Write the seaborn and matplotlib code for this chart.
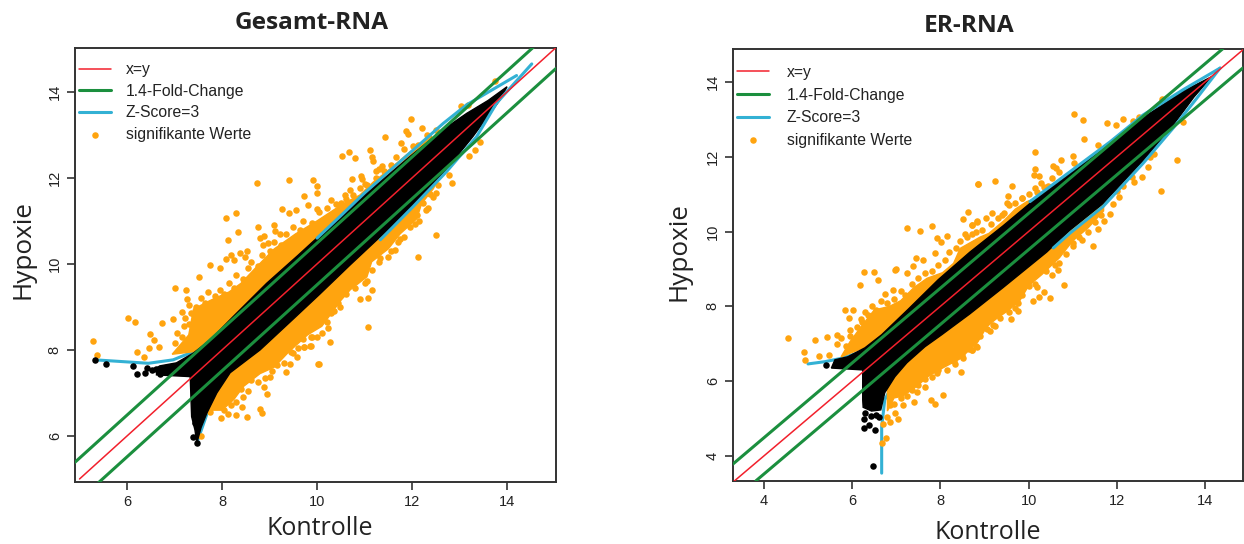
import matplotlib
matplotlib.use("Agg")
import matplotlib.pyplot as plt
import seaborn as sns

titles = ["Gesamt-RNA", "ER-RNA"]
xlabel = "Kontrolle"
ylabel = "Hypoxie"
label_order = ["x=y", "1.4-Fold-Change", "Z-Score=3", "signifikante Werte"]

# Gesamt-RNA
g_xticks = [6, 8, 10, 12, 14]
g_yticks = [6, 8, 10, 12, 14]
g_red = [5.0, 15.03]
g_green_up_x = [4.9, 14.6]
g_green_up_y = [5.385, 15.085]
g_green_lo_x = [5.4, 15.03]
g_green_lo_y = [4.915, 14.545]

g_zup_x = [5.33, 6.45, 6.97, 7.33, 7.75, 8.5, 9.3, 10.0]
g_zup_y = [7.77, 7.69, 7.77, 7.93, 8.28, 9.12, 9.9, 10.6]
g_zup_top_x = [10.0, 10.48, 11.0, 11.75, 12.66, 13.15, 14.2]
g_zup_top_y = [10.6, 11.1, 11.65, 12.38, 13.27, 13.7, 14.38]
g_zlo_x = [11.33, 10.06, 9.3, 8.73, 8.3, 7.96, 7.71, 7.47]
g_zlo_y = [10.56, 9.3, 8.48, 8.0, 7.58, 7.12, 6.6, 5.84]
g_zlo_top_x = [14.52, 13.78, 13.36, 12.73, 12.02, 11.33]
g_zlo_top_y = [14.65, 13.74, 12.96, 12.15, 11.33, 10.56]

g_black_x = [6.62, 6.69, 7.04, 7.4, 7.75, 8.23, 8.94, 9.6, 10.34, 11.05, 11.96, 12.65, 13.15, 13.6, 14.0,
             13.85, 13.28, 12.66, 11.96, 11.26, 10.69, 10.06, 9.5, 8.8, 8.17, 7.89, 7.68, 7.56, 7.47,
             7.43, 7.36, 7.33, 6.62]
g_black_y = [7.58, 7.63, 7.7, 7.93, 8.23, 8.77, 9.55, 10.2, 10.95, 11.65, 12.5, 13.12, 13.5, 13.8, 14.12,
             13.81, 12.96, 12.11, 11.26, 10.56, 9.97, 9.3, 8.72, 8.0, 7.47, 7.0, 6.53, 6.2, 5.84,
             6.14, 6.45, 7.38, 7.42]
g_dots_x = [5.33, 5.55, 6.13, 6.2, 6.38, 6.43, 6.52, 7.38, 7.43, 7.47, 6.6, 6.7, 7.4, 7.5, 7.55]
g_dots_y = [7.77, 7.67, 7.63, 7.44, 7.47, 7.57, 7.53, 5.98, 6.3, 5.84, 7.55, 7.45, 6.5, 6.35, 6.6]

g_cloud_up_x = [6.95, 7.3, 7.4, 7.75, 8.15, 8.4, 8.7, 9.1, 9.55, 10.0, 10.55, 10.9, 11.18, 11.47, 11.9, 12.4, 12.5, 7.7]
g_cloud_up_y = [7.9, 8.35, 8.95, 9.15, 9.35, 9.55, 9.9, 10.35, 10.7, 11.0, 11.4, 11.6, 11.9, 12.15, 12.55, 13.0, 12.6, 8.0]
g_cloud_lo_x = [7.68, 8.0, 8.25, 8.45, 8.8, 9.1, 9.4, 9.8, 10.1, 10.3, 10.5, 10.7, 11.05, 11.15, 11.5, 11.75, 12.1, 12.2,
                12.45, 12.6, 12.6, 7.68]
g_cloud_lo_y = [6.6, 6.6, 6.85, 7.15, 7.45, 7.6, 7.95, 8.35, 8.55, 8.85, 9.15, 9.4, 9.7, 10.05, 10.35, 10.7, 11.05, 11.4,
                11.75, 12.1, 12.6, 7.68]

g_sig_x = [8.74, 9.40, 9.92, 10.0, 9.99, 9.73, 9.82, 10.0, 9.26, 9.55, 9.42, 8.30, 8.09, 8.76, 9.09, 9.12, 9.21,
           8.34, 8.12, 8.80, 8.89, 8.87, 8.97, 8.19, 8.38, 8.48, 8.52, 8.08, 8.25, 7.75, 7.96,
           5.28, 5.36, 6.02, 6.17, 6.73, 7.0, 7.24, 7.51, 6.49, 6.57, 6.21, 6.47, 6.68, 6.36, 6.96, 7.16, 7.42, 7.26,
           8.79, 8.84, 8.52, 8.29, 7.97, 8.12, 8.95, 8.88, 9.35, 9.43, 9.57, 9.73, 9.87, 10.03, 9.49, 7.56, 8.41,
           8.45, 8.19, 9.01,
           13.74, 13.17, 13.02, 11.98, 12.2, 11.87, 11.92, 11.43, 11.76, 11.12, 11.83, 10.52, 10.67, 10.8, 11.16,
           11.17, 11.66, 10.73, 10.93, 10.95, 11.24, 11.36, 11.4, 10.29, 10.5, 10.59, 10.69, 10.91, 11.05, 12.5,
           12.31, 12.03, 12.13,
           13.43, 13.32, 13.19, 12.84, 12.78, 12.55, 12.5, 12.38, 12.34, 12.22, 12.1, 12.06, 12.5, 12.13, 11.83,
           11.75, 11.64, 11.5, 11.33,
           11.16, 10.91, 11.08, 11.08, 10.48, 10.29, 10.27, 10.23, 10.05, 9.73, 9.85, 10.0, 9.87, 10.58, 11.05,
           # dense rim of the upper cloud
           7.0, 7.05, 7.15, 7.2, 7.3, 7.22, 7.35, 7.3, 7.45, 7.55, 7.65, 7.7, 7.85, 7.95, 8.05, 8.15, 8.25, 8.3, 8.45,
           8.55, 8.6, 8.75, 8.85, 9.0, 9.1, 9.25, 9.35, 9.5, 9.65, 9.7, 9.9, 10.05, 10.2, 10.4, 10.6, 10.75, 11.0,
           11.25, 11.3, 11.55,
           # dense rim of the lower cloud
           7.75, 7.85, 8.05, 8.15, 8.3, 8.4, 8.55, 8.6, 8.75, 8.9, 9.05, 9.15, 9.3, 9.45, 9.6, 9.7, 9.9, 10.1, 10.2,
           10.35, 10.45, 10.6, 10.8, 11.0, 11.15, 11.3, 11.55, 11.7, 11.95, 12.15, 12.3, 12.45]
g_sig_y = [11.88, 11.94, 11.95, 11.81, 11.66, 11.58, 11.36, 11.28, 11.28, 11.25, 11.19, 11.19, 11.07, 10.86, 10.9,
           10.77, 10.69, 10.74, 10.56, 10.6, 10.65, 10.44, 10.48, 10.21, 10.25, 10.16, 10.31, 10.11, 10.08, 9.98, 9.91,
           8.2, 7.89, 8.74, 8.65, 8.63, 9.43, 9.39, 9.69, 8.38, 8.23, 7.95, 8.05, 8.06, 7.84, 8.71, 8.89, 8.81, 9.18,
           6.63, 6.53, 6.44, 6.48, 6.41, 6.51, 6.98, 7.14, 7.48, 7.67, 7.84, 8.06, 8.1, 7.68, 7.92, 6.01, 6.68,
           6.91, 6.72, 7.38,
           14.26, 13.7, 13.66, 13.38, 13.16, 13.09, 13.02, 12.94, 12.81, 12.66, 12.68, 12.51, 12.6, 12.47, 12.48,
           12.39, 12.48, 11.97, 12.05, 11.97, 12.17, 12.28, 12.15, 11.49, 11.41, 11.6, 11.72, 11.76, 11.84, 13.12,
           13.0, 12.73, 12.77,
           12.83, 12.66, 12.52, 11.88, 12.07, 11.84, 11.64, 11.63, 11.31, 11.41, 11.14, 10.93, 10.67, 10.17, 10.63,
           10.58, 10.33, 10.17, 10.14,
           9.4, 9.19, 9.21, 8.53, 8.99, 8.86, 8.19, 8.51, 7.68, 8.06, 8.09, 8.3, 8.31, 9.33, 9.61,
           8.15, 8.4, 8.3, 8.55, 8.6, 8.75, 8.85, 9.05, 9.0, 9.2, 9.1, 9.35, 9.25, 9.4, 9.3, 9.55, 9.45, 9.75, 9.65,
           9.9, 10.05, 9.95, 10.2, 10.3, 10.5, 10.45, 10.7, 10.85, 10.8, 11.0, 10.95, 11.2, 11.3, 11.4, 11.5, 11.6, 11.85,
           12.0, 12.2, 12.3,
           6.55, 6.7, 6.6, 6.85, 6.8, 7.1, 7.05, 7.3, 7.25, 7.35, 7.5, 7.65, 7.7, 7.95, 8.05, 8.25, 8.3, 8.4, 8.65,
           8.9, 9.1, 9.3, 9.45, 9.55, 9.85, 10.05, 10.3, 10.5, 10.85, 11.0, 11.25, 11.55]

# ER-RNA
e_xticks = [4, 6, 8, 10, 12, 14]
e_yticks = [4, 6, 8, 10, 12, 14]
e_red = [3.31, 14.86]
e_green_up_x = [3.3, 14.4]
e_green_up_y = [3.785, 14.885]
e_green_lo_x = [3.82, 14.86]
e_green_lo_y = [3.335, 14.375]

e_zup_x = [5.0, 5.38, 5.76, 6.22, 6.67, 7.27, 8.17, 9.42, 10.03]
e_zup_y = [6.46, 6.52, 6.61, 6.79, 7.24, 7.9, 8.89, 10.2, 10.8]
e_zup_top_x = [10.03, 10.94, 11.85, 12.6, 13.5, 14.34]
e_zup_top_y = [10.8, 11.6, 12.4, 13.12, 13.79, 14.37]
e_zlo_x = [10.56, 9.8, 8.0, 7.2, 6.97, 6.74, 6.67, 6.67]
e_zlo_y = [9.56, 8.71, 7.1, 6.49, 6.03, 5.5, 4.78, 3.54]
e_zlo_top_x = [14.34, 13.81, 13.28, 12.6, 11.69, 10.94, 10.56]
e_zlo_top_y = [14.37, 13.56, 12.77, 11.83, 10.67, 9.96, 9.56]

e_black_x = [5.53, 5.61, 5.9, 6.29, 6.67, 7.27, 7.95, 8.67, 9.42, 10.03, 10.94, 11.85, 12.6, 13.5, 14.15,
             13.75, 13.28, 12.6, 11.69, 10.94, 10.41, 9.42, 8.67, 8.03, 7.65, 7.24, 6.97, 6.74, 6.65,
             6.44, 6.25, 6.24, 6.24]
e_black_y = [6.35, 6.57, 6.65, 6.89, 7.24, 7.92, 8.71, 9.45, 10.15, 10.75, 11.55, 12.35, 13.05, 13.75, 14.14,
             13.6, 12.85, 11.9, 10.75, 10.04, 9.45, 8.5, 7.8, 7.24, 6.92, 6.49, 6.12, 5.69, 5.23,
             5.2, 5.3, 5.5, 6.3]
e_dots_x = [5.41, 6.27, 6.38, 6.52, 6.48, 6.3, 6.42, 6.28, 6.55, 6.62]
e_dots_y = [6.43, 4.74, 4.83, 4.7, 3.74, 5.15, 5.08, 4.98, 5.1, 5.05]

e_cloud_up_x = [5.75, 5.95, 6.2, 6.5, 6.85, 7.1, 7.4, 7.7, 8.05, 8.3, 8.45, 8.9, 9.1, 9.45, 9.7, 9.96, 10.2, 6.6]
e_cloud_up_y = [6.65, 7.05, 7.45, 7.9, 8.0, 8.15, 8.5, 8.75, 8.9, 9.15, 9.55, 9.85, 9.95, 10.3, 10.6, 10.8, 10.9, 7.05]
e_cloud_lo_x = [6.8, 6.95, 7.15, 7.45, 7.75, 8.05, 8.45, 8.85, 9.05, 9.25, 9.55, 9.8, 10.0, 10.3, 10.7, 11.0, 11.35,
                11.7, 11.7, 6.8]
e_cloud_lo_y = [5.2, 5.55, 5.6, 5.85, 6.15, 6.35, 6.6, 7.05, 7.45, 7.65, 7.9, 8.15, 8.55, 8.85, 9.3, 9.75, 10.1,
                10.55, 11.7, 6.8]

e_sig_x = [8.85, 7.24, 7.54, 7.8, 7.92, 8.02, 8.14, 8.62, 8.52, 8.71, 8.82, 8.56, 8.71, 7.44, 7.6, 7.39, 7.88, 6.99,
           6.27, 6.5, 6.18, 6.59, 6.98, 7.24, 5.84, 6.03, 5.93, 4.54, 5.15, 5.43, 4.92, 5.25, 4.93, 5.47, 5.65, 6.74,
           6.37, 6.22, 5.95, 6.93,
           8.05, 7.88, 7.78, 7.41, 7.15, 7.05, 6.98, 6.86, 6.71, 6.77, 6.68, 8.46, 8.52, 8.72, 8.8, 8.47, 8.33, 7.92,
           7.46, 7.65,
           13.02, 11.03, 11.24, 11.77, 12.13, 11.98, 12.36, 12.5, 11.26, 11.58, 10.15, 10.73, 11.0, 11.04, 10.14,
           10.56, 10.63, 10.7, 10.13, 10.23, 10.52, 10.28, 8.86, 9.24, 9.62, 10.45, 9.54, 9.84, 10.15, 9.5, 9.16,
           9.03, 9.39, 8.82, 8.71,
           13.51, 13.37, 12.85, 12.76, 12.7, 12.57, 12.99, 12.34, 12.38, 12.15, 12.0, 12.04, 11.92, 11.85, 11.7,
           11.58, 11.45, 11.2, 11.01, 10.68,
           10.81, 10.67, 10.54, 10.48, 10.36, 10.23, 10.09, 9.75, 9.61, 9.24, 9.12, 8.82, 8.72, 9.77, 10.18,
           # dense rim of the upper cloud
           5.65, 5.75, 5.85, 5.95, 6.1, 6.2, 6.3, 6.45, 6.55, 6.65, 6.8, 6.95, 7.1, 7.2, 7.35, 7.5, 7.65, 7.8, 7.95,
           8.1, 8.2, 8.35, 8.45, 8.6, 8.8, 8.95, 9.15, 9.3, 9.45, 9.55, 9.7, 9.85, 10.0, 10.2, 10.35,
           # dense rim of the lower cloud
           6.8, 6.85, 6.95, 7.1, 7.25, 7.35, 7.5, 7.65, 7.8, 7.95, 8.15, 8.3, 8.5, 8.65, 8.9, 9.05, 9.2, 9.35, 9.55,
           9.7, 9.85, 10.0, 10.15, 10.4, 10.6, 10.85, 11.0, 11.15, 11.35, 11.5, 11.65]
e_sig_y = [11.28, 10.1, 10.02, 10.14, 9.82, 9.73, 9.87, 10.53, 10.33, 10.18, 10.29, 9.93, 9.93, 9.29, 9.24, 9.08, 9.42, 8.99,
           8.93, 8.92, 8.56, 8.7, 8.97, 8.88, 7.89, 7.9, 7.7, 7.16, 7.11, 7.19, 6.79, 6.67, 6.57, 6.7, 7.24, 8.33,
           7.77, 7.59, 7.37, 8.44,
           5.63, 5.38, 5.5, 5.45, 5.36, 5.0, 5.15, 4.9, 4.85, 4.49, 4.35, 6.25, 6.61, 6.83, 6.94, 6.83, 6.46, 6.21,
           5.72, 5.85,
           13.55, 13.13, 12.97, 12.91, 13.0, 12.85, 12.96, 13.07, 12.48, 12.32, 12.13, 11.91, 12.02, 11.84, 11.67,
           11.74, 11.69, 11.6, 11.5, 11.48, 11.44, 11.29, 11.28, 11.34, 11.21, 11.23, 10.96, 10.89, 11.16, 10.76, 10.49,
           10.36, 10.43, 10.26, 10.18,
           12.94, 11.91, 12.07, 12.0, 11.73, 11.47, 11.08, 11.47, 11.33, 11.23, 11.09, 10.93, 10.74, 10.46, 10.28,
           10.06, 9.62, 9.78, 9.69, 9.15,
           8.57, 8.97, 8.83, 8.22, 8.38, 8.26, 8.14, 7.88, 7.65, 7.48, 7.34, 6.91, 6.83, 8.08, 8.53,
           7.0, 7.15, 6.95, 7.2, 7.45, 7.65, 7.85, 8.0, 7.9, 8.15, 8.1, 8.2, 8.4, 8.3, 8.6, 8.75, 8.9, 8.95, 9.1,
           9.25, 9.45, 9.55, 9.75, 9.85, 10.0, 10.05, 10.2, 10.35, 10.5, 10.7, 10.75, 10.9, 11.0, 11.05, 11.2,
           5.05, 5.35, 5.4, 5.55, 5.6, 5.75, 5.9, 6.05, 6.1, 6.3, 6.3, 6.55, 6.7, 6.85, 7.2, 7.4, 7.5, 7.7, 7.85,
           7.95, 8.3, 8.55, 8.6, 8.95, 9.1, 9.4, 9.6, 9.85, 10.0, 10.25, 10.45]

RED = "#f2202c"
GREEN = "#1b8f3e"
BLUE = "#33b1d4"
ORANGE = "#ffa40f"
DARK = "#333333"

sns.set_theme(style="ticks")
plt.rcParams["font.family"] = ["Liberation Sans", "DejaVu Sans"]


def draw_panel(ax, title, xlim, ylim, xticks, yticks, red, gup, glo, zup, zlo, ztops, black, dots, clouds, sig, leg):
    # lower part of the blue line goes under the orange, it only shows where points thin out
    sns.lineplot(x=zup[0], y=zup[1], sort=False, estimator=None, color=BLUE, lw=2.2, ax=ax, zorder=0.9, label="Z-Score=3")
    sns.lineplot(x=zlo[0], y=zlo[1], sort=False, estimator=None, color=BLUE, lw=2.2, ax=ax, zorder=0.9)
    for cx, cy in clouds:
        ax.fill(cx, cy, color=ORANGE, lw=1, zorder=1)
    sns.scatterplot(x=sig[0], y=sig[1], color=ORANGE, s=22, linewidth=0, ax=ax, zorder=1, label="signifikante Werte")
    ax.fill(black[0], black[1], color="black", lw=1, zorder=2)
    sns.scatterplot(x=dots[0], y=dots[1], color="black", s=22, linewidth=0, ax=ax, zorder=2)
    for zx, zy in ztops:
        sns.lineplot(x=zx, y=zy, sort=False, estimator=None, color=BLUE, lw=2.2, ax=ax, zorder=3)
    sns.lineplot(x=gup[0], y=gup[1], color=GREEN, lw=2.2, ax=ax, zorder=5, label="1.4-Fold-Change")
    sns.lineplot(x=glo[0], y=glo[1], color=GREEN, lw=2.2, ax=ax, zorder=5)
    sns.lineplot(x=red, y=red, color=RED, lw=1.1, ax=ax, zorder=6, label="x=y")

    ax.set_xlim(xlim)
    ax.set_ylim(ylim)
    ax.set_xticks(xticks)
    ax.set_yticks(yticks)
    ax.tick_params(length=5.5, width=1.2, color=DARK, labelsize=10.5, labelcolor="#222222", pad=4)
    ax.tick_params(axis="y", labelrotation=90)
    for t in ax.get_yticklabels():
        t.set_va("center")
    for s in ax.spines.values():
        s.set_visible(True)
        s.set_linewidth(1.4)
        s.set_color(DARK)

    ax.set_title(title, family="Open Sans", fontweight="bold", fontsize=17.6, color="#222222",
                 pad=leg["titlepad"], x=leg["titlex"])
    ax.set_xlabel(xlabel, family="Open Sans", fontsize=18, color="#222222", labelpad=leg["xpad"], x=leg["xlabelx"])
    ax.set_ylabel(ylabel, family="Open Sans", fontsize=18.8, color="#222222", labelpad=leg["ypad"], y=leg["ylabely"])

    handles, labels = ax.get_legend_handles_labels()
    lookup = dict(zip(labels, handles))
    ax.legend([lookup[k] for k in label_order], label_order, loc="upper left", frameon=False, fontsize=11.3,
              handlelength=2.05, handletextpad=leg["textpad"], labelspacing=leg["spacing"], borderaxespad=0, borderpad=0,
              bbox_to_anchor=leg["anchor"], labelcolor="#222222")


fig = plt.figure(figsize=(12.44, 5.44), dpi=100)
ax1 = fig.add_axes([75 / 1244, 1 - 482 / 544, 481 / 1244, 434 / 544])
ax2 = fig.add_axes([733 / 1244, 1 - 481 / 544, 510 / 1244, 432 / 544])

draw_panel(ax1, titles[0], (4.905, 15.03), (4.93, 15.02), g_xticks, g_yticks, g_red,
           (g_green_up_x, g_green_up_y), (g_green_lo_x, g_green_lo_y),
           (g_zup_x, g_zup_y), (g_zlo_x, g_zlo_y), [(g_zup_top_x, g_zup_top_y), (g_zlo_top_x, g_zlo_top_y)],
           (g_black_x, g_black_y), (g_dots_x, g_dots_y),
           [(g_cloud_up_x, g_cloud_up_y), (g_cloud_lo_x, g_cloud_lo_y)], (g_sig_x, g_sig_y),
           {"titlepad": 14, "titlex": 0.493, "ypad": 9, "xpad": 5, "xlabelx": 0.508, "ylabely": 0.535,
            "spacing": 0.41, "textpad": 0.95, "anchor": (0.008, 0.967)})
draw_panel(ax2, titles[1], (3.30, 14.86), (3.33, 14.88), e_xticks, e_yticks, e_red,
           (e_green_up_x, e_green_up_y), (e_green_lo_x, e_green_lo_y),
           (e_zup_x, e_zup_y), (e_zlo_x, e_zlo_y), [(e_zup_top_x, e_zup_top_y), (e_zlo_top_x, e_zlo_top_y)],
           (e_black_x, e_black_y), (e_dots_x, e_dots_y),
           [(e_cloud_up_x, e_cloud_up_y), (e_cloud_lo_x, e_cloud_lo_y)], (e_sig_x, e_sig_y),
           {"titlepad": 12, "titlex": 0.463, "ypad": 10.5, "xpad": 8.5, "xlabelx": 0.5, "ylabely": 0.532,
            "spacing": 0.48, "textpad": 1.1, "anchor": (0.008, 0.963)})

fig.savefig("out.png", dpi=100)
plt.close(fig)
